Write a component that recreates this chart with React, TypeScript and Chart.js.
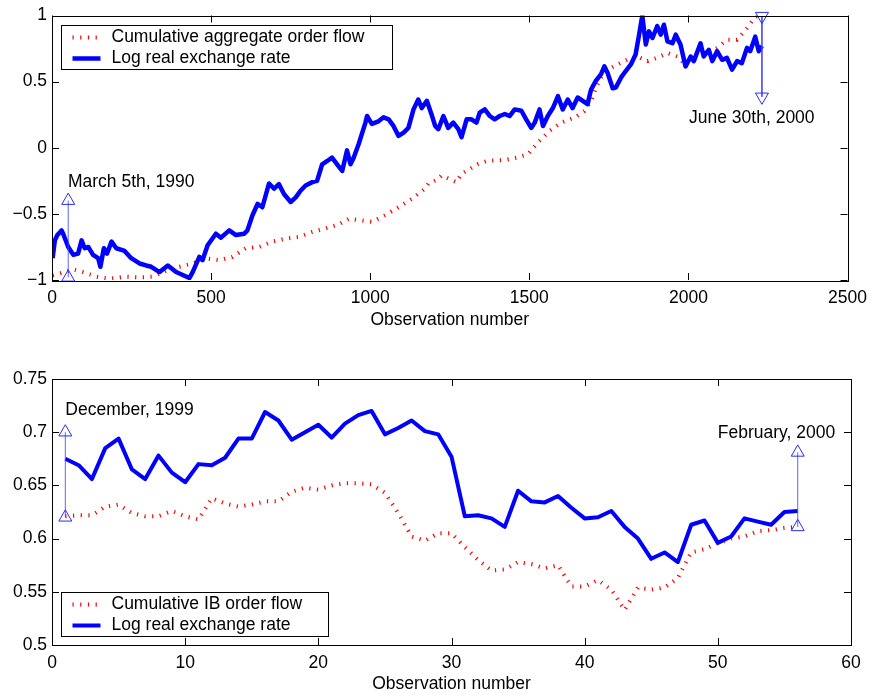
import React, { useEffect, useRef } from "react";
import { Chart, registerables } from "chart.js";
Chart.register(...registerables);

const FONT = '"Liberation Sans", Arial, Helvetica, sans-serif';
const FS = 17.5;

// ---------- Top panel data ----------
const rateObs = [
  2, 9, 17, 30, 35, 51, 67, 82, 93, 103, 114, 129, 145, 152, 163, 173, 187, 202, 228, 249,
  275, 296, 312, 338, 364, 390, 432, 442, 463, 473, 489, 515, 531, 557, 578, 604, 614, 630, 646, 661,
  682, 698, 713, 729, 750, 766, 781, 797, 818, 833, 849, 865, 880, 896, 912, 927, 938, 948, 964, 985,
  990, 1005, 1026, 1042, 1058, 1073, 1089, 1105, 1120, 1136, 1151, 1162, 1178, 1193, 1204, 1214, 1230, 1245, 1261, 1277,
  1287, 1303, 1318, 1334, 1344, 1360, 1376, 1391, 1407, 1423, 1438, 1454, 1475, 1490, 1506, 1517, 1532, 1543, 1558, 1574,
  1590, 1605, 1621, 1636, 1652, 1668, 1683, 1694, 1709, 1725, 1736, 1746, 1762, 1772, 1788, 1803, 1819, 1834, 1845, 1855,
  1866, 1876, 1887, 1902, 1913, 1923, 1934, 1950, 1960, 1975, 1991, 2007, 2017, 2038, 2048, 2064, 2075, 2090, 2106, 2121,
  2137, 2153, 2168, 2184, 2194, 2210, 2221, 2231,
];
const rateValues = [
  -0.835, -0.7, -0.66, -0.625, -0.65, -0.75, -0.81, -0.8, -0.7, -0.76, -0.75, -0.81, -0.835, -0.9, -0.76, -0.8, -0.71, -0.76, -0.78, -0.835,
  -0.875, -0.89, -0.9, -0.94, -0.89, -0.94, -0.985, -0.94, -0.825, -0.85, -0.737, -0.65, -0.68, -0.625, -0.66, -0.65, -0.625, -0.51, -0.425, -0.45,
  -0.27, -0.31, -0.275, -0.35, -0.41, -0.375, -0.325, -0.285, -0.26, -0.25, -0.125, -0.1, -0.075, -0.125, -0.175, -0.02, -0.125, -0.075, 0.03, 0.19,
  0.24, 0.18, 0.2, 0.23, 0.215, 0.165, 0.09, 0.115, 0.15, 0.29, 0.365, 0.3, 0.355, 0.25, 0.165, 0.14, 0.24, 0.15, 0.19, 0.14,
  0.08, 0.215, 0.215, 0.19, 0.265, 0.29, 0.24, 0.215, 0.24, 0.255, 0.24, 0.29, 0.28, 0.215, 0.15, 0.19, 0.29, 0.165, 0.24, 0.3,
  0.39, 0.29, 0.365, 0.3, 0.38, 0.355, 0.33, 0.44, 0.505, 0.555, 0.615, 0.565, 0.45, 0.455, 0.53, 0.58, 0.63, 0.705, 0.855, 1.0,
  0.78, 0.88, 0.83, 0.92, 0.855, 0.93, 0.805, 0.79, 0.855, 0.78, 0.615, 0.69, 0.655, 0.79, 0.69, 0.74, 0.655, 0.73, 0.665, 0.68,
  0.59, 0.655, 0.64, 0.755, 0.73, 0.84, 0.73, 0.77,
];
const aggFlowObs = [
  2, 25, 67, 98, 140, 181, 234, 275, 317, 359, 400, 442, 484, 526, 567, 609, 651, 692, 734, 776,
  818, 860, 901, 932, 974, 1005, 1047, 1089, 1131, 1172, 1183, 1212, 1224, 1271, 1287, 1339, 1370, 1423, 1464, 1496,
  1527, 1564, 1600, 1642, 1673, 1694, 1709, 1725, 1746, 1777, 1809, 1840, 1871, 1902, 1934, 1965, 1986, 2017, 2059, 2090,
  2121, 2153, 2184, 2210, 2226,
];
const aggFlowValues = [
  -0.965, -0.95, -0.92, -0.94, -0.975, -0.99, -0.975, -0.98, -0.975, -0.93, -0.9, -0.875, -0.837, -0.85, -0.825, -0.76, -0.75, -0.71, -0.687, -0.674,
  -0.637, -0.61, -0.58, -0.537, -0.55, -0.56, -0.51, -0.45, -0.386, -0.31, -0.27, -0.24, -0.21, -0.26, -0.198, -0.123, -0.098, -0.093, -0.073, -0.048,
  0.04, 0.128, 0.19, 0.228, 0.278, 0.353, 0.453, 0.53, 0.59, 0.63, 0.667, 0.69, 0.655, 0.68, 0.717, 0.69, 0.64, 0.68, 0.717, 0.754,
  0.817, 0.817, 0.905, 0.99, 1.0,
];
const topXTicks = [0, 500, 1000, 1500, 2000, 2500];
const topYTicks = [-1, -0.5, 0, 0.5, 1];
const topLabels = ["Cumulative aggregate order flow", "Log real exchange rate"];
const topNotes = [
  { text: "March 5th, 1990", x: 50, y: -0.26 },
  { text: "June 30th, 2000", x: 2002, y: 0.22 },
];
const topArrows = [
  { x: 51, from: -0.98, to: -0.4, down: false },
  { x: 2231, from: 0.995, to: 0.385, down: true },
];

// ---------- Bottom panel data ----------
const ibObs = [
  1, 2, 3, 4, 5, 6, 7, 8, 9, 10, 11, 12, 13, 14, 15, 16, 17, 18, 19, 20,
  21, 22, 23, 24, 25, 26, 27, 28, 29, 30, 31, 32, 33, 34, 35, 36, 37, 38, 39, 40,
  41, 42, 43, 44, 45, 46, 47, 48, 49, 50, 51, 52, 53, 54, 55, 56,
];
const ibRate = [
  0.675, 0.669, 0.656, 0.685, 0.694, 0.665, 0.656, 0.678, 0.662, 0.653, 0.67, 0.669, 0.676, 0.694, 0.694, 0.719, 0.711, 0.693, 0.7, 0.707,
  0.695, 0.708, 0.716, 0.72, 0.698, 0.704, 0.711, 0.701, 0.698, 0.677, 0.621, 0.622, 0.619, 0.611, 0.645, 0.635, 0.634, 0.64, 0.629, 0.619,
  0.62, 0.626, 0.611, 0.6, 0.581, 0.587, 0.578, 0.613, 0.617, 0.596, 0.602, 0.619, 0.616, 0.613, 0.625, 0.626,
];
const ibFlow = [
  0.621, 0.622, 0.622, 0.63, 0.632, 0.624, 0.621, 0.621, 0.626, 0.621, 0.618, 0.638, 0.633, 0.63, 0.632, 0.635, 0.635, 0.644, 0.648, 0.646,
  0.65, 0.652, 0.652, 0.651, 0.643, 0.624, 0.602, 0.598, 0.605, 0.605, 0.592, 0.58, 0.57, 0.571, 0.578, 0.576, 0.572, 0.575, 0.555, 0.555,
  0.561, 0.552, 0.533, 0.554, 0.552, 0.554, 0.563, 0.587, 0.59, 0.596, 0.6, 0.602, 0.607, 0.608, 0.61, 0.611,
];
const bottomXTicks = [0, 10, 20, 30, 40, 50, 60];
const bottomYTicks = [0.5, 0.55, 0.6, 0.65, 0.7, 0.75];
const bottomLabels = ["Cumulative IB order flow", "Log real exchange rate"];
const bottomNotes = [
  { text: "December, 1999", x: 1, y: 0.7205 },
  { text: "February, 2000", x: 50, y: 0.6995 },
];
const bottomArrows = [
  { x: 1, from: 0.62, to: 0.7, down: false },
  { x: 56, from: 0.611, to: 0.681, down: false },
];

const decorPlugin = {
  id: "decor",
  afterDraw(chart: any, _args: any, opts: any) {
    const ctx = chart.ctx;
    const ca = chart.chartArea;
    const xs = chart.scales.x;
    const ys = chart.scales.y;
    ctx.save();
    // frame + inward ticks
    ctx.strokeStyle = "#000";
    ctx.lineWidth = 1;
    ctx.strokeRect(Math.round(ca.left) + 0.5, Math.round(ca.top) + 0.5, Math.round(ca.right - ca.left), Math.round(ca.bottom - ca.top));
    const tl = 7;
    ctx.beginPath();
    xs.ticks.forEach((t: any) => {
      const px = Math.round(xs.getPixelForValue(t.value)) + 0.5;
      ctx.moveTo(px, ca.bottom);
      ctx.lineTo(px, ca.bottom - tl);
      ctx.moveTo(px, ca.top);
      ctx.lineTo(px, ca.top + tl);
    });
    ys.ticks.forEach((t: any) => {
      const py = Math.round(ys.getPixelForValue(t.value)) + 0.5;
      ctx.moveTo(ca.left, py);
      ctx.lineTo(ca.left + tl, py);
      ctx.moveTo(ca.right, py);
      ctx.lineTo(ca.right - tl, py);
    });
    ctx.stroke();

    // legend box
    const lg = opts.legend;
    const bx = Math.round(ca.left + lg.dx) + 0.5;
    const by = Math.round(lg.fromBottom ? ca.bottom - lg.dy : ca.top + lg.dy) + 0.5;
    ctx.fillStyle = "#fff";
    ctx.fillRect(bx, by, lg.w, lg.h);
    ctx.strokeStyle = "#000";
    ctx.lineWidth = 1;
    ctx.strokeRect(bx, by, lg.w, lg.h);
    lg.labels.forEach((label: string, i: number) => {
      const ds = chart.data.datasets[i];
      const cy = by + (i === 0 ? 12 : 33);
      ctx.save();
      ctx.strokeStyle = ds.borderColor;
      ctx.lineWidth = ds.borderWidth;
      ctx.setLineDash(ds.borderDash || []);
      ctx.beginPath();
      ctx.moveTo(bx + 11, cy);
      ctx.lineTo(bx + 39, cy);
      ctx.stroke();
      ctx.restore();
      ctx.fillStyle = "#000";
      ctx.font = `${FS}px ${FONT}`;
      ctx.textBaseline = "middle";
      ctx.textAlign = "left";
      ctx.fillText(label, bx + 50, cy);
    });

    // notes
    ctx.fillStyle = "#000";
    ctx.font = `${FS}px ${FONT}`;
    ctx.textBaseline = "middle";
    ctx.textAlign = "left";
    opts.notes.forEach((n: any) => {
      ctx.fillText(n.text, xs.getPixelForValue(n.x), ys.getPixelForValue(n.y));
    });
    ctx.restore();
  },
};

function buildConfig(p: any) {
  const font = { family: FONT, size: FS };
  const arrowSets = p.arrows.map((a: any) => ({
    label: "",
    data: [
      { x: a.x, y: a.from },
      { x: a.x, y: a.to },
    ],
    borderColor: "rgba(70,70,255,0.85)",
    borderWidth: 1,
    pointStyle: "triangle",
    pointRadius: 7.5,
    pointRotation: a.down ? 180 : 0,
    pointBorderColor: "#2a2aff",
    pointBackgroundColor: "rgba(255,255,255,0)",
    pointBorderWidth: 1,
    clip: false,
    order: 0,
  }));
  return {
    type: "line",
    data: {
      datasets: [
        {
          label: p.labels[0],
          data: p.flowObs.map((x: number, i: number) => ({ x, y: p.flowValues[i] })),
          borderColor: "#ff0000",
          borderWidth: 4,
          borderDash: [1.2, 6.5],
          pointRadius: 0,
          tension: 0,
          fill: false,
          order: 2,
        },
        {
          label: p.labels[1],
          data: p.rateObs.map((x: number, i: number) => ({ x, y: p.rateValues[i] })),
          borderColor: "#0000ff",
          borderWidth: p.rateWidth,
          pointRadius: 0,
          tension: 0,
          fill: false,
          borderJoinStyle: "round",
          order: 1,
        },
        ...arrowSets,
      ],
    },
    options: {
      animation: false,
      responsive: false,
      maintainAspectRatio: false,
      events: [],
      layout: { padding: { top: p.padTop, left: 0, right: 24, bottom: 0 } },
      scales: {
        x: {
          type: "linear",
          min: p.xTicks[0],
          max: p.xTicks[p.xTicks.length - 1],
          afterBuildTicks: (s: any) => {
            s.ticks = p.xTicks.map((v: number) => ({ value: v }));
          },
          afterFit: (s: any) => {
            s.height = p.xHeight;
          },
          grid: { display: false, drawTicks: false },
          border: { display: false },
          ticks: { font, color: "#000", padding: 8, maxRotation: 0, autoSkip: false, callback: (v: any) => String(v) },
          title: { display: true, text: "Observation number", font, color: "#000", padding: { top: 0, bottom: p.titlePad } },
        },
        y: {
          type: "linear",
          min: p.yTicks[0],
          max: p.yTicks[p.yTicks.length - 1],
          afterBuildTicks: (s: any) => {
            s.ticks = p.yTicks.map((v: number) => ({ value: v }));
          },
          afterFit: (s: any) => {
            s.width = 52;
          },
          grid: { display: false, drawTicks: false },
          border: { display: false },
          ticks: {
            font,
            color: "#000",
            padding: 5,
            autoSkip: false,
            callback: (v: any) => {
              const n = Number(Number(v).toFixed(2));
              return n < 0 ? "\u2212" + String(Math.abs(n)) : String(n);
            },
          },
        },
      },
      plugins: {
        legend: { display: false },
        tooltip: { enabled: false },
        decor: { legend: p.legend, notes: p.notes },
      },
    },
    plugins: [decorPlugin],
  };
}

export default function App() {
  const topRef = useRef<HTMLCanvasElement>(null);
  const botRef = useRef<HTMLCanvasElement>(null);
  useEffect(() => {
    const top = new Chart(
      topRef.current as any,
      buildConfig({
        flowObs: aggFlowObs,
        flowValues: aggFlowValues,
        rateObs,
        rateValues,
        rateWidth: 4.5,
        labels: topLabels,
        xTicks: topXTicks,
        yTicks: topYTicks,
        notes: topNotes,
        arrows: topArrows,
        padTop: 14,
        xHeight: 60,
        titlePad: 9.5,
        legend: { dx: 9, dy: 9, w: 331, h: 44, fromBottom: false, labels: topLabels },
      }) as any
    );
    const bot = new Chart(
      botRef.current as any,
      buildConfig({
        flowObs: ibObs,
        flowValues: ibFlow,
        rateObs: ibObs,
        rateValues: ibRate,
        rateWidth: 4,
        labels: bottomLabels,
        xTicks: bottomXTicks,
        yTicks: bottomYTicks,
        notes: bottomNotes,
        arrows: bottomArrows,
        padTop: 29,
        xHeight: 51,
        titlePad: 1.5,
        legend: { dx: 9, dy: 53, w: 267, h: 44, fromBottom: true, labels: bottomLabels },
      }) as any
    );
    return () => {
      top.destroy();
      bot.destroy();
    };
  }, []);
  return (
    <div style={{ position: "absolute", left: 0, top: 0, width: 875, height: 696, background: "#fff" }}>
      <canvas ref={topRef} width={875} height={340} style={{ position: "absolute", left: 0, top: 0, display: "block" }} />
      <canvas ref={botRef} width={875} height={346} style={{ position: "absolute", left: 0, top: 350, display: "block" }} />
    </div>
  );
}
